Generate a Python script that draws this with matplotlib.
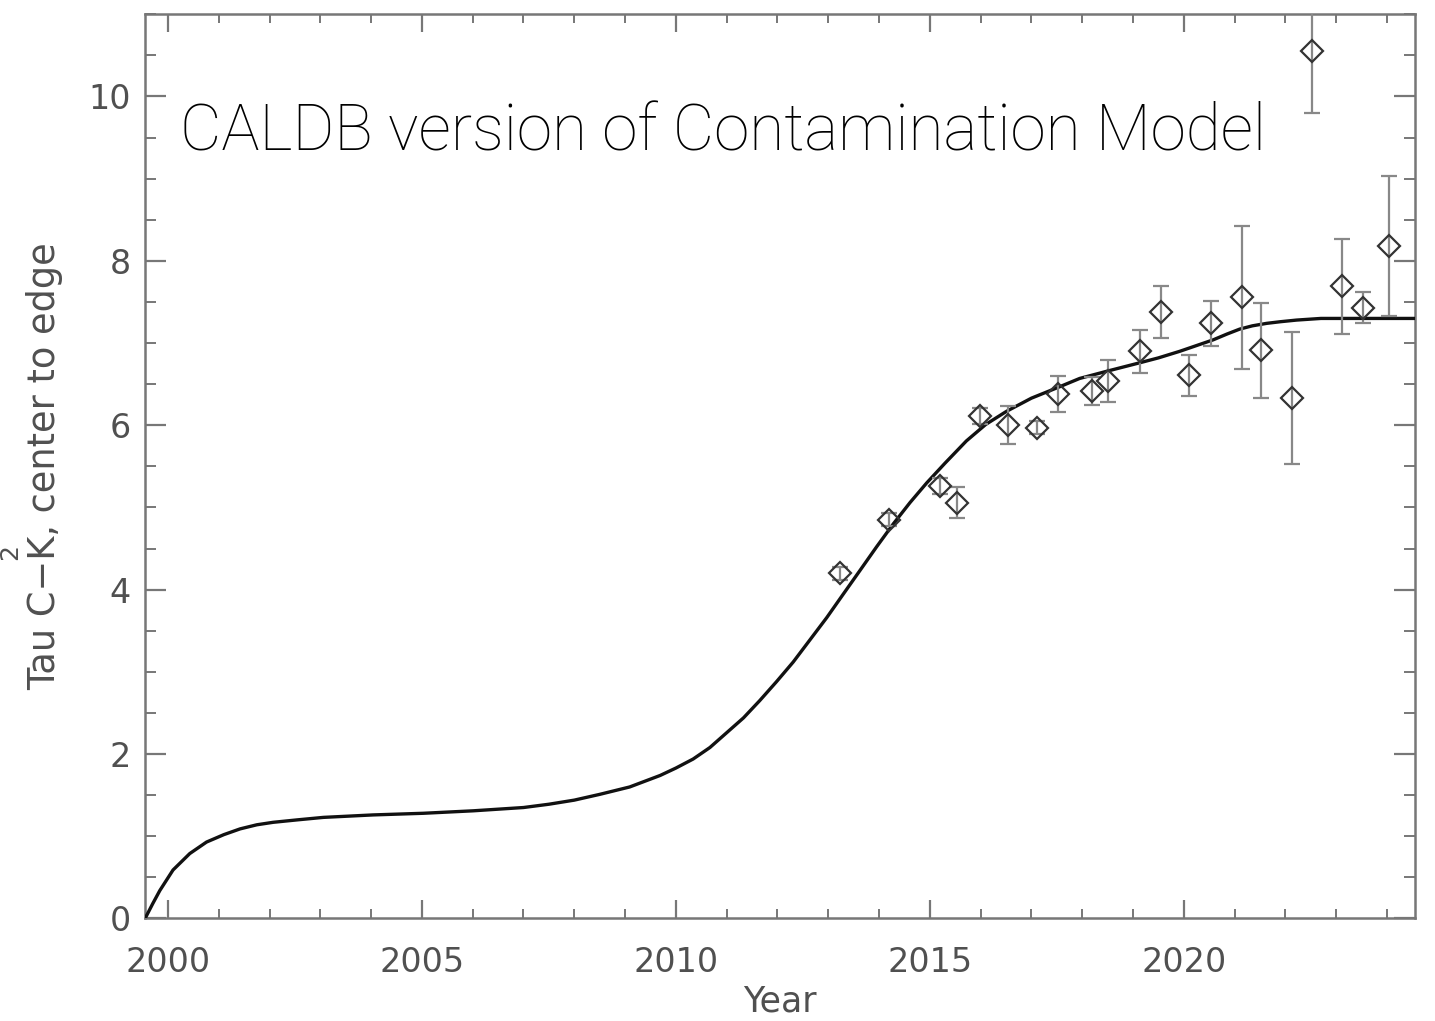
import matplotlib
matplotlib.use('Agg')
import matplotlib.pyplot as plt
from matplotlib.ticker import MultipleLocator

# Curva do modelo
ano_modelo = [1999.55, 1999.70, 1999.84, 2000.10, 2000.43, 2000.76, 2001.10, 2001.42,
              2001.75, 2002.07, 2002.55, 2003.06, 2004.04, 2005.03, 2006.01, 2007.00,
              2007.50, 2008.00, 2008.50, 2009.09, 2009.69, 2010.00, 2010.34, 2010.67,
              2011.00, 2011.33, 2011.65, 2011.98, 2012.31, 2012.64, 2012.97, 2013.30,
              2013.62, 2013.95, 2014.28, 2014.61, 2014.94, 2015.30, 2015.72, 2016.10,
              2016.51, 2017.00, 2017.56, 2017.95, 2018.50, 2019.13, 2019.50, 2019.92,
              2020.25, 2020.58, 2020.85, 2021.10, 2021.35, 2021.63, 2021.90, 2022.22,
              2022.70, 2023.20, 2024.55]
tau_modelo = [0.00, 0.18, 0.34, 0.59, 0.79, 0.93, 1.02, 1.09,
              1.14, 1.17, 1.20, 1.23, 1.26, 1.28, 1.31, 1.35,
              1.39, 1.44, 1.51, 1.60, 1.74, 1.83, 1.94, 2.08,
              2.26, 2.44, 2.65, 2.88, 3.12, 3.39, 3.66, 3.95,
              4.23, 4.52, 4.80, 5.06, 5.30, 5.54, 5.81, 6.01,
              6.17, 6.33, 6.47, 6.57, 6.66, 6.76, 6.82, 6.90,
              6.97, 7.04, 7.11, 7.17, 7.21, 7.24, 7.26, 7.28,
              7.30, 7.30, 7.30]

# Medidas com barras de erro
ano_medida = [2013.23, 2014.20, 2015.20, 2015.53, 2015.98, 2016.54, 2017.11, 2017.53,
              2018.19, 2018.51, 2019.13, 2019.56, 2020.10, 2020.53, 2021.14, 2021.52,
              2022.13, 2022.53, 2023.12, 2023.52, 2024.04]
tau_medida = [4.20, 4.85, 5.26, 5.06, 6.11, 6.00, 5.97, 6.38,
              6.42, 6.54, 6.90, 7.38, 6.61, 7.24, 7.56, 6.91,
              6.33, 10.55, 7.69, 7.43, 8.18]
erro_medida = [0.08, 0.08, 0.10, 0.19, 0.10, 0.23, 0.08, 0.22,
               0.17, 0.26, 0.26, 0.32, 0.25, 0.27, 0.87, 0.58,
               0.80, 0.75, 0.58, 0.19, 0.85]

cinza = '#777777'
cinza_texto = '#505050'

fig = plt.figure(figsize=(14.35, 10.21), dpi=100)
ax = fig.add_axes([0.101, 0.1004, 0.885, 0.8856])

ax.plot(ano_modelo, tau_modelo, color='#111111', lw=2.4, zorder=3)
ax.errorbar(ano_medida, tau_medida, yerr=erro_medida, fmt='D', ms=11,
            mfc='none', mec='#333333', mew=1.6, ecolor='#888888',
            elinewidth=1.6, capsize=6, capthick=1.6, zorder=4)

ax.set_xlim(1999.547, 2024.55)
ax.set_ylim(0, 11)
ax.xaxis.set_major_locator(MultipleLocator(5))
ax.xaxis.set_minor_locator(MultipleLocator(1))
ax.yaxis.set_major_locator(MultipleLocator(2))
ax.yaxis.set_minor_locator(MultipleLocator(0.5))

for s in ax.spines.values():
    s.set_color(cinza)
    s.set_linewidth(1.8)

ax.tick_params(axis='x', which='major', direction='in', length=13, width=1.6,
               color=cinza, top=True, pad=20, labelsize=24, labelcolor=cinza_texto)
ax.tick_params(axis='x', which='minor', direction='in', length=6.5, width=1.4,
               color=cinza, top=True)
ax.tick_params(axis='y', which='major', direction='in', length=15, width=1.6,
               color=cinza, right=True, pad=10, labelsize=24, labelcolor=cinza_texto)
ax.tick_params(axis='y', which='minor', direction='in', length=8, width=1.4,
               color=cinza, right=True)

ax.set_xlabel('Year', fontsize=25, color=cinza_texto, labelpad=4)
ax.set_ylabel('Tau C\u2212K, center to edge', fontsize=26.5, color=cinza_texto, labelpad=18)

fig.text(0.1255, 0.853, 'CALDB version of Contamination Model', fontsize=46,
         family=['Roboto', 'DejaVu Sans'], fontweight='light', color='black',
         va='baseline')

# resto de um rotulo na borda esquerda
fig.text(0.007, 0.459, '2', rotation=90, fontsize=18, color=cinza_texto,
         ha='center', va='center')

fig.savefig('out.png', dpi=100)
